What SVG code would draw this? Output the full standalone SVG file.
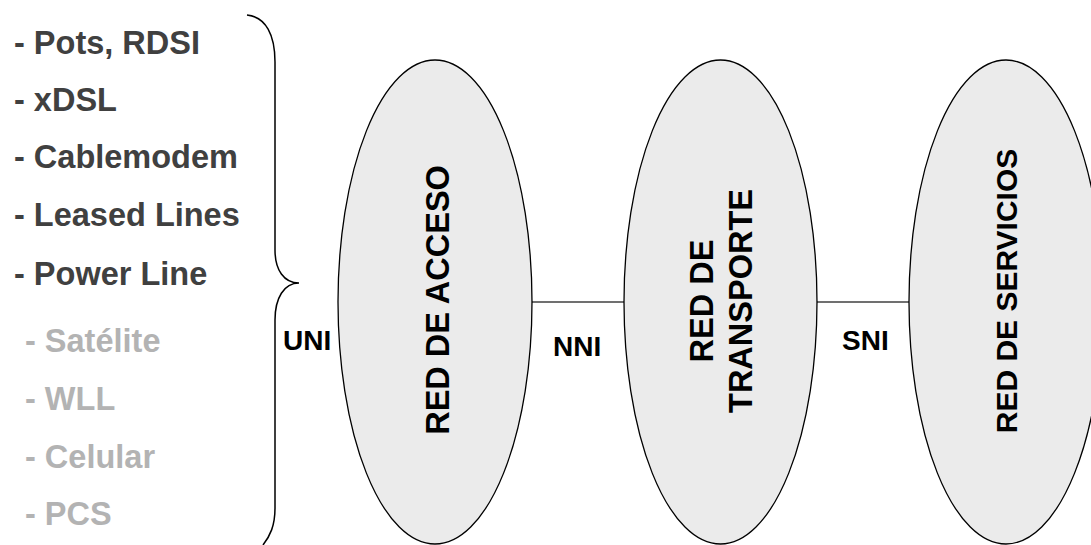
<svg xmlns="http://www.w3.org/2000/svg" width="1091" height="545" viewBox="0 0 1091 545">
  <style>
    .item { font-family: "Liberation Sans", Arial, sans-serif; font-weight: bold; font-size: 32.5px; }
    .wired { fill: #404040; }
    .wireless { fill: #b3b3b3; }
    .lbl { font-family: "Liberation Sans", Arial, sans-serif; font-weight: bold; font-size: 28px; fill: #000; }
    .net { fill: #ebebeb; stroke: #000; stroke-width: 1.3; }
    .netlbl { font-family: "Liberation Sans", Arial, sans-serif; font-weight: bold; font-size: 32.5px; fill: #000; text-anchor: middle; }
    .link { stroke: #404040; stroke-width: 1.6; fill: none; }
    .brace { stroke: #000; stroke-width: 1.5; fill: none; }
  </style>
  <rect width="1091" height="545" fill="#fff"/>

  <!-- access technologies -->
  <g id="tech-list">
    <text class="item wired" x="14" y="54">- Pots, RDSI</text>
    <text class="item wired" x="14" y="111">- xDSL</text>
    <text class="item wired" x="14" y="168">- Cablemodem</text>
    <text class="item wired" x="14" y="226">- Leased Lines</text>
    <text class="item wired" x="14" y="285">- Power Line</text>
    <text class="item wireless" x="25" y="352">- Satélite</text>
    <text class="item wireless" x="25" y="410">- WLL</text>
    <text class="item wireless" x="25" y="468">- Celular</text>
    <text class="item wireless" x="25" y="525">- PCS</text>
  </g>

  <!-- curly brace grouping the technologies -->
  <g id="brace">
    <path class="brace" d="M247,15 C266,17 275,35 275,62 L275,250 C275,270 284,283 299,283 C284,283 275,298 275,320 L275,508 C275,526 270,536 263,545"/>
    <text class="lbl" x="283" y="350">UNI</text>
  </g>

  <!-- connectors -->
  <g id="connectors">
    <line class="link" x1="532" y1="302" x2="624" y2="302"/>
    <text class="lbl" x="553" y="356">NNI</text>
    <line class="link" x1="817" y1="302" x2="909" y2="302"/>
    <text class="lbl" x="842" y="350">SNI</text>
  </g>

  <g id="red-acceso">
    <ellipse class="net" cx="435" cy="302" rx="97" ry="242"/>
    <text class="netlbl" transform="translate(449,300) rotate(-90)">RED DE ACCESO</text>
  </g>

  <g id="red-transporte">
    <ellipse class="net" cx="720.5" cy="302" rx="96.5" ry="242"/>
    <text class="netlbl" transform="translate(713,301) rotate(-90)">RED DE</text>
    <text class="netlbl" transform="translate(752,301) rotate(-90)">TRANSPORTE</text>
  </g>

  <g id="red-servicios">
    <ellipse class="net" cx="1006" cy="302" rx="97" ry="242"/>
    <text class="netlbl" style="font-size:30px" transform="translate(1017,291) rotate(-90)">RED DE SERVICIOS</text>
  </g>
</svg>
